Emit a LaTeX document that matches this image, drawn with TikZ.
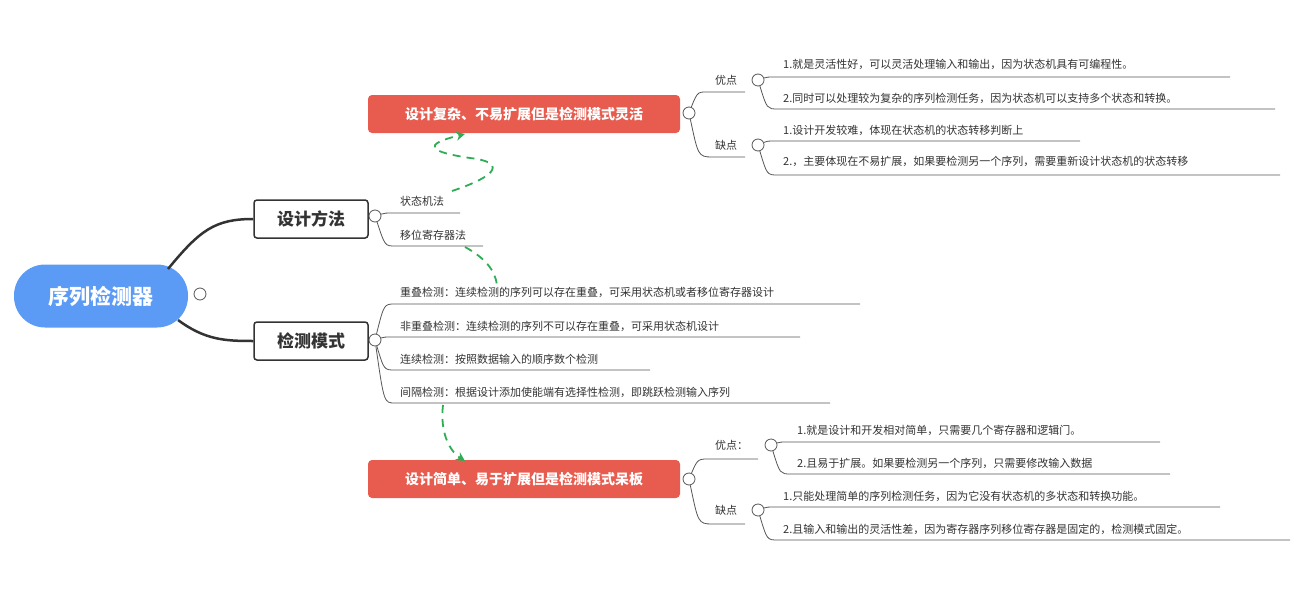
\documentclass[tikz,border=0pt]{standalone}
\usepackage{fontspec}
\setmainfont{Noto Sans CJK SC}
\usetikzlibrary{arrows.meta}
\definecolor{rootc}{HTML}{5B9BF5}
\definecolor{redc}{HTML}{E85C4F}
\definecolor{linec}{HTML}{555555}
\definecolor{txtc}{HTML}{333333}
\definecolor{grn}{HTML}{2EAD55}
\tikzset{
  leaf/.style={anchor=west,inner sep=0pt,font=\fontsize{11}{13}\selectfont,text=txtc},
  col/.style={circle,draw=linec,fill=white,minimum size=12pt,inner sep=0pt,line width=0.8pt},
  br/.style={draw=linec,line width=1pt},
  ul/.style={draw=linec,line width=0.8pt},
  mainbox/.style={draw=txtc,line width=1.5pt,rounded corners=3pt,fill=white,minimum width=114pt,minimum height=38pt,font=\bfseries\fontsize{17}{20}\selectfont,text=txtc},
  redbox/.style={fill=redc,rounded corners=4pt,minimum width=312pt,minimum height=38pt,font=\bfseries\fontsize{14}{17}\selectfont,text=white},
  gd/.style={draw=grn,line width=1.8pt,dash pattern=on 8pt off 6pt}
}
\begin{document}
\begin{tikzpicture}[x=1pt,y=-1pt]
\useasboundingbox (0,0) rectangle (1308,597);
% root
\node[fill=rootc,rounded corners=31pt,minimum width=174pt,minimum height=63pt,font=\bfseries\fontsize{21}{24}\selectfont,text=white] (root) at (101,296) {序列检测器};
\node[col] (rc) at (200,294) {};
\node[mainbox] (m1) at (311,219) {设计方法};
\node[mainbox] (m2) at (311,341) {检测模式};
\draw[br,line width=2.5pt,draw=txtc] (168,269) .. controls (200,230) and (215,219) .. (m1.west);
\draw[br,line width=2.5pt,draw=txtc] (178,320) .. controls (205,340) and (225,341) .. (m2.west);
% design methods
\node[col] (c1) at (375,216) {};
\draw[ul] (c1) .. controls (385,213) .. (395,213) -- (460,213);
\draw[ul] (c1) .. controls (385,246) .. (395,246) -- (483,246);
\node[leaf] (s1) at (400,201) {状态机法};
\node[leaf] (s2) at (400,235) {移位寄存器法};
% detection modes
\node[col] (c2) at (375,340) {};
\foreach \y/\e in {304/860,337/800,370/650,403/830}{
  \draw[ul] (c2) .. controls (384,\y) .. (395,\y) -- (\e,\y);
}
\node[leaf] (d1) at (400,292) {重叠检测：连续检测的序列可以存在重叠，可采用状态机或者移位寄存器设计};
\node[leaf] (d2) at (400,326) {非重叠检测：连续检测的序列不可以存在重叠，可采用状态机设计};
\node[leaf] (d3) at (400,359) {连续检测：按照数据输入的顺序数个检测};
\node[leaf] (d4) at (400,392) {间隔检测：根据设计添加使能端有选择性检测，即跳跃检测输入序列};
% red boxes
\node[redbox] (r1) at (524,114) {设计复杂、不易扩展但是检测模式灵活};
\node[redbox] (r2) at (524,479) {设计简单、易于扩展但是检测模式呆板};
\node[col] (rc1) at (689,113) {};
\node[col] (rc2) at (689,479) {};
% top branch
\draw[ul] (rc1) .. controls (698,90) and (698,92) .. (712,92) -- (745,92);
\draw[ul] (rc1) .. controls (698,155) and (698,157) .. (712,157) -- (745,157);
\node[leaf] (y1) at (715,80) {优点};
\node[leaf] (q1) at (715,145) {缺点};
\node[col] (yc1) at (758,80) {};
\node[col] (qc1) at (758,145) {};
\draw[ul] (yc1) .. controls (767,77) .. (778,77) -- (1230,77);
\draw[ul] (yc1) .. controls (767,109) .. (778,109) -- (1275,109);
\draw[ul] (qc1) .. controls (767,141) .. (778,141) -- (1080,141);
\draw[ul] (qc1) .. controls (767,175) .. (778,175) -- (1280,175);
\node[leaf] at (783,64) {1.就是灵活性好，可以灵活处理输入和输出，因为状态机具有可编程性。};
\node[leaf] at (783,98) {2.同时可以处理较为复杂的序列检测任务，因为状态机可以支持多个状态和转换。};
\node[leaf] at (783,130) {1.设计开发较难，体现在状态机的状态转移判断上};
\node[leaf] at (783,161) {2.，主要体现在不易扩展，如果要检测另一个序列，需要重新设计状态机的状态转移};
% bottom branch
\draw[ul] (rc2) .. controls (698,458) and (698,459) .. (712,459) -- (758,459);
\draw[ul] (rc2) .. controls (698,522) and (698,524) .. (712,524) -- (745,524);
\node[leaf] (y2) at (715,445) {优点：};
\node[leaf] (q2) at (715,510) {缺点};
\node[col] (yc2) at (771,445) {};
\node[col] (qc2) at (758,510) {};
\draw[ul] (yc2) .. controls (780,442) .. (791,442) -- (1160,442);
\draw[ul] (yc2) .. controls (780,474) .. (791,474) -- (1170,474);
\draw[ul] (qc2) .. controls (767,507) .. (778,507) -- (1220,507);
\draw[ul] (qc2) .. controls (767,540) .. (778,540) -- (1290,540);
\node[leaf] at (797,430) {1.就是设计和开发相对简单，只需要几个寄存器和逻辑门。};
\node[leaf] at (797,463) {2.且易于扩展。如果要检测另一个序列，只需要修改输入数据};
\node[leaf] at (783,496) {1.只能处理简单的序列检测任务，因为它没有状态机的多状态和转换功能。};
\node[leaf] at (783,529) {2.且输入和输出的灵活性差，因为寄存器序列移位寄存器是固定的，检测模式固定。};
% green dashed links
\coordinate (g1) at (452,191);
\draw[gd,-{Stealth[length=9pt,width=9pt]}] (g1) .. controls (500,175) and (505,162) .. (470,158) .. controls (430,152) and (420,145) .. (465,134);
\coordinate (g2) at (465,247);
\draw[gd] (g2) .. controls (485,258) and (495,270) .. (497,285);
\coordinate (g3) at (443,405);
\draw[gd,-{Stealth[length=9pt,width=9pt]}] (g3) .. controls (440,430) and (448,450) .. (465,461);
\end{tikzpicture}
\end{document}
